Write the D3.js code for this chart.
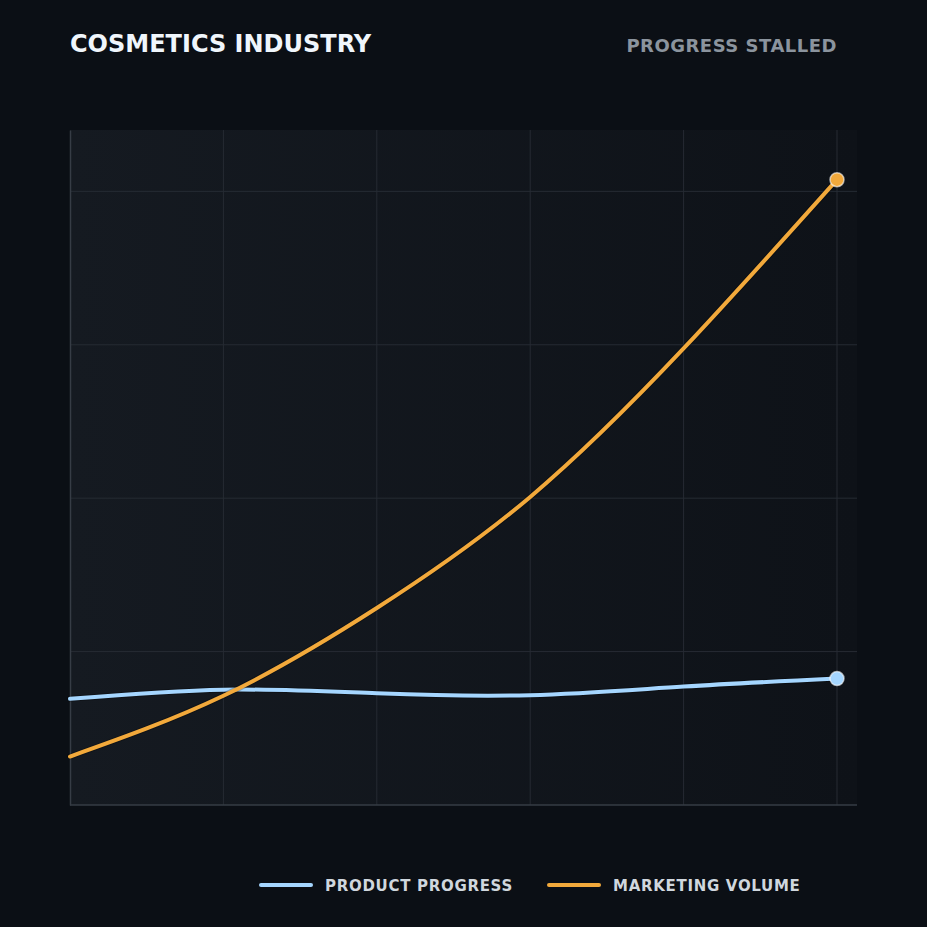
<!DOCTYPE html>
<html>
<head>
<meta charset="utf-8">
<script src="https://cdn.jsdelivr.net/npm/d3@7"></script>
<style>
  html, body { margin: 0; padding: 0; background: #0b0f15; }
  svg { display: block; font-family: "DejaVu Sans", sans-serif; }
</style>
</head>
<body>
<div id="chart"></div>
<script>
// Data
var periods = [0, 1, 2, 3, 4, 5];
var productProgress = [17.3, 18.8, 18.2, 17.9, 19.3, 20.6];
var marketingVolume = [7.9, 17.8, 32.1, 50.2, 74.4, 101.9];
var yTicks = [0, 25, 50, 75, 100];
var seriesNames = ["PRODUCT PROGRESS", "MARKETING VOLUME"];
var seriesColors = ["#a5d6ff", "#f2a93b"];

var svgWidth = 927;
var svgHeight = 927;

var margin = { top: 130, right: 70, bottom: 122, left: 70 };
var chartWidth = svgWidth - margin.left - margin.right;   // 787
var chartHeight = svgHeight - margin.top - margin.bottom; // 675

var svg = d3.select("#chart")
  .append("svg")
  .attr("width", svgWidth)
  .attr("height", svgHeight);

svg.append("rect")
  .attr("width", svgWidth)
  .attr("height", svgHeight)
  .attr("fill", "#0b0f15");

// plot background gradient
var defs = svg.append("defs");
var grad = defs.append("linearGradient")
  .attr("id", "plotBg")
  .attr("x1", "0%").attr("y1", "0%")
  .attr("x2", "100%").attr("y2", "0%");
grad.append("stop").attr("offset", "0%").attr("stop-color", "#151a21");
grad.append("stop").attr("offset", "100%").attr("stop-color", "#0e1218");

var chartGroup = svg.append("g")
  .attr("transform", `translate(${margin.left}, ${margin.top})`);

// scales: last period sits 20px left of the plot's right edge
var xScale = d3.scaleLinear()
  .domain([0, 5])
  .range([0, chartWidth - 20]);

var yScale = d3.scaleLinear()
  .domain([0, 110])
  .range([chartHeight, 0]);

chartGroup.append("rect")
  .attr("width", chartWidth)
  .attr("height", chartHeight)
  .attr("fill", "url(#plotBg)");

// gridlines
chartGroup.append("g")
  .selectAll("line")
  .data(periods.slice(1))
  .enter()
  .append("line")
  .attr("x1", d => xScale(d))
  .attr("x2", d => xScale(d))
  .attr("y1", 0)
  .attr("y2", chartHeight)
  .attr("stroke", "#262b33")
  .attr("stroke-width", 1);

chartGroup.append("g")
  .selectAll("line")
  .data(yTicks.slice(1))
  .enter()
  .append("line")
  .attr("x1", 0)
  .attr("x2", chartWidth)
  .attr("y1", d => yScale(d))
  .attr("y2", d => yScale(d))
  .attr("stroke", "#262b33")
  .attr("stroke-width", 1);

// axes (no tick labels in the reference)
var bottomAxis = d3.axisBottom(xScale).tickValues([]).tickSizeOuter(0);
var leftAxis = d3.axisLeft(yScale).tickValues([]).tickSizeOuter(0);

var xAxis = chartGroup.append("g")
  .attr("transform", `translate(0, ${chartHeight})`)
  .call(bottomAxis);
xAxis.select(".domain")
  .attr("d", `M0,0H${chartWidth}`)
  .attr("stroke", "#363c45")
  .attr("stroke-width", 1.5);

var yAxis = chartGroup.append("g").call(leftAxis);
yAxis.select(".domain")
  .attr("stroke", "#363c45")
  .attr("stroke-width", 1.5);

// lines
var line = d3.line()
  .x((d, i) => xScale(periods[i]))
  .y(d => yScale(d))
  .curve(d3.curveNatural);

var allSeries = [productProgress, marketingVolume];

allSeries.forEach(function(values, k) {
  chartGroup.append("path")
    .datum(values)
    .attr("d", line)
    .attr("fill", "none")
    .attr("stroke", "#000")
    .attr("stroke-opacity", 0.25)
    .attr("stroke-width", 6)
    .attr("stroke-linecap", "round");

  chartGroup.append("path")
    .datum(values)
    .attr("d", line)
    .attr("fill", "none")
    .attr("stroke", seriesColors[k])
    .attr("stroke-width", 4)
    .attr("stroke-linecap", "round");

  var last = values.length - 1;
  chartGroup.append("circle")
    .attr("cx", xScale(periods[last]))
    .attr("cy", yScale(values[last]))
    .attr("r", 7)
    .attr("fill", seriesColors[k])
    .attr("stroke", "#ffffff")
    .attr("stroke-opacity", 0.6)
    .attr("stroke-width", 1.5);
});

// title and subtitle
svg.append("text")
  .attr("x", 70)
  .attr("y", 52)
  .attr("fill", "#f0f6fc")
  .attr("font-size", 24)
  .attr("font-weight", "bold")
  .text("COSMETICS INDUSTRY");

svg.append("text")
  .attr("x", 837)
  .attr("y", 52)
  .attr("text-anchor", "end")
  .attr("fill", "#8b949e")
  .attr("font-size", 18)
  .attr("font-weight", "bold")
  .attr("letter-spacing", 0.5)
  .text("PROGRESS STALLED");

// legend
var legendX = [261, 549];
var legend = svg.append("g");
seriesNames.forEach(function(name, k) {
  legend.append("line")
    .attr("x1", legendX[k])
    .attr("x2", legendX[k] + 50)
    .attr("y1", 885)
    .attr("y2", 885)
    .attr("stroke", seriesColors[k])
    .attr("stroke-width", 4)
    .attr("stroke-linecap", "round");

  legend.append("text")
    .attr("x", legendX[k] + 64)
    .attr("y", 890.5)
    .attr("fill", "#d0d7de")
    .attr("font-size", 15)
    .attr("font-weight", "bold")
    .attr("letter-spacing", 0.7)
    .text(name);
});
</script>
</body>
</html>
